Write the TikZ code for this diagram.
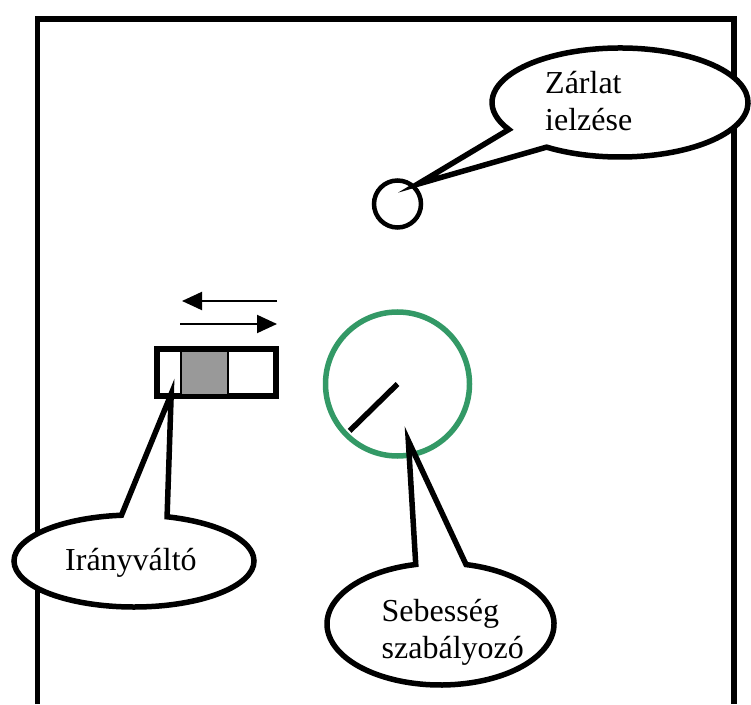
\documentclass[tikz,border=0pt]{standalone}
\usepackage{fontspec}
\setmainfont{Liberation Serif}
\usetikzlibrary{arrows.meta,calc}
\definecolor{dialgreen}{RGB}{51,153,102}
\definecolor{knobgray}{RGB}{153,153,153}
\tikzset{
  frameline/.style={line width=5.5pt},
  bubble/.style={draw=black, fill=white, line width=5.5pt, line join=miter, miter limit=30},
  bubbletext/.style={font=\fontsize{32}{37}\selectfont, inner sep=0pt, anchor=base west},
  dirarrow/.style={line width=2pt, -{Triangle[length=20pt,width=18pt]}},
}
\begin{document}
\begin{tikzpicture}[x=1pt,y=1pt]
\useasboundingbox (0,0) rectangle (751,704);

% panel outline, open at the bottom
\draw[frameline] (37.5,0) -- (37.5,685) -- (734,685) -- (734,0);

% indicator lamp
\node[circle, draw, line width=4.5pt, minimum size=47pt, inner sep=0pt] (lamp) at (397.5,500) {};

% speed dial with pointer
\node[circle, draw=dialgreen, line width=5.5pt, minimum size=144pt, inner sep=0pt] (dial) at (397.5,320) {};
\draw[line width=5.5pt] (dial.center) -- ($(dial.center)+(224.4:67pt)$);

% direction switch
\node[draw, line width=6pt, minimum width=119pt, minimum height=47pt, inner sep=0pt] (switch) at (216.5,331) {};
\node[draw, fill=knobgray, line width=1.8pt, minimum width=47pt, minimum height=44pt, inner sep=0pt] (knob) at (204.5,331) {};

% direction arrows above the switch
\coordinate (arLright) at (277,403);
\coordinate (arLleft) at (182,403);
\coordinate (arRleft) at (180,380);
\coordinate (arRright) at (277,380);
\draw[dirarrow] (arLright) -- (arLleft);
\draw[dirarrow] (arRleft) -- (arRright);

% callout centres and pointer tips (the mitred point reaches past these)
\coordinate (cz) at (620,601.5);
\coordinate (ci) at (134,143);
\coordinate (cs) at (440.5,80);
\coordinate (tz) at ($(lamp.center)+(20,19.8)$);
\coordinate (ti) at ($(switch.center)+(-45.3,-20.9)$);
\coordinate (ts) at ($(dial.center)+(10.8,-56.7)$);

% callout bubbles
\draw[bubble] (cz) ++(235:128pt and 54.5pt)
  arc[start angle=235, end angle=569.7, x radius=128pt, y radius=54.5pt] -- (tz) -- cycle;
\draw[bubble] (ci) ++(96:120pt and 46pt)
  arc[start angle=96, end angle=434, x radius=120pt, y radius=46pt] -- (ti) -- cycle;
\draw[bubble] (cs) ++(102.6:113.5pt and 61pt)
  arc[start angle=102.6, end angle=437, x radius=113.5pt, y radius=61pt] -- (ts) -- cycle;

% callout texts
\node[bubbletext] (tz1) at (545,610.7) {Zárlat};
\node[bubbletext] (tz2) at (545,573.3) {ielzése};
\node[bubbletext] (ti1) at (65,134) {Irányváltó};
\node[bubbletext] (ts1) at (381.5,82.3) {Sebesség};
\node[bubbletext] (ts2) at (381.5,46) {szabályozó};
\end{tikzpicture}
\end{document}
